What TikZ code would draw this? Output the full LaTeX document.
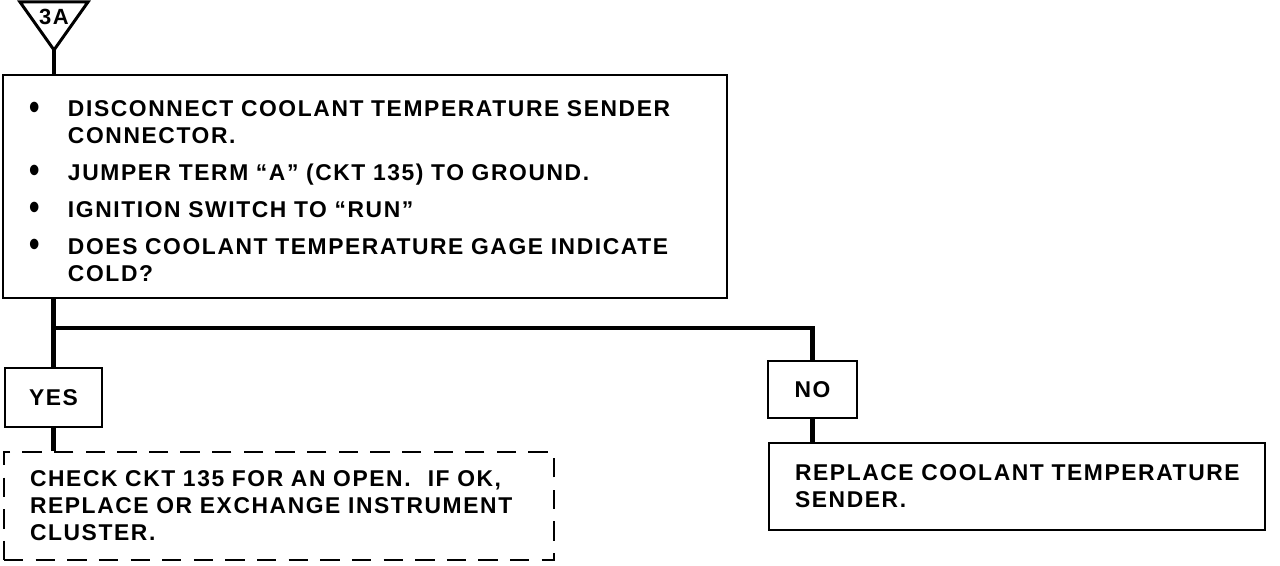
\documentclass[tikz,border=0pt]{standalone}
\usepackage{fontspec}
\newfontfamily\cardfont[LetterSpace=7,WordSpace=1.4]{Liberation Sans}
\usetikzlibrary{positioning,calc}
\definecolor{ink}{HTML}{000000}
\tikzset{
  card/.style={draw=ink,line width=1.1pt,text=ink,align=left,inner xsep=0.52cm,inner ysep=0pt,font=\cardfont\bfseries\fontsize{13}{15.3}\selectfont},
  ans/.style={card,align=center,inner xsep=0pt},
  chk/.style={card,dash pattern=on 11pt off 7pt},
  link/.style={line width=2.5pt,ink},
  tri/.style={line width=1.7pt,ink,line join=miter}
}
\newcommand{\bul}{\raisebox{-0.2ex}{\scalebox{1.3}[1.6]{\textbullet}}}

\begin{document}
\begin{tikzpicture}[x=1cm,y=1cm]
\useasboundingbox (0,0) rectangle (25.6,11.32);
% ---------------- entry mark ----------------
\draw[tri] (0.4,11.28) -- (1.76,11.28) -- (1.08,10.32) -- cycle;
\coordinate (tip) at (1.08,10.32);
\node[font=\cardfont\bfseries\fontsize{12.5}{14}\selectfont,inner sep=0pt] (mark) at (1.08,10.98) {3A};
% ---------------- boxes ----------------
\node[card,minimum width=14.48cm,minimum height=4.46cm,text width=13.44cm] (main) at (7.3,7.59) {%
\raisebox{-0.14cm}[\height][\depth]{\begin{tabular}{@{}p{0.78cm}@{}l@{}}
\bul & DISCONNECT COOLANT TEMPERATURE SENDER\\
     & CONNECTOR.\\[0.2cm]
\bul & JUMPER TERM “A” (CKT 135) TO GROUND.\\[0.2cm]
\bul & IGNITION SWITCH TO “RUN”\\[0.2cm]
\bul & DOES COOLANT TEMPERATURE GAGE INDICATE\\
     & COLD?
\end{tabular}}};
\node[ans,minimum width=1.94cm,minimum height=1.18cm] (yes) at (1.07,3.37) {YES};
\node[ans,minimum width=1.78cm,minimum height=1.14cm] (no) at (16.25,3.53) {NO};
\node[chk,minimum width=10.96cm,minimum height=2.16cm,text width=9.96cm] (check) at (5.58,1.2) {CHECK CKT 135 FOR AN OPEN.\hspace{0.75em}IF OK,\\ REPLACE OR EXCHANGE INSTRUMENT\\ CLUSTER.};
\node[card,minimum width=9.92cm,minimum height=1.74cm,text width=8.88cm] (swap) at (20.34,1.59) {REPLACE COOLANT TEMPERATURE\\ SENDER.};
% ---------------- connectors ----------------
\coordinate (fork) at (1.08,4.76);
\draw[link] (tip) -- (tip |- main.north);
\draw[link] (main.south -| yes.north) -- (yes.north);
\draw[link] (fork) -| (no.north);
\draw[link] (yes.south) -- (yes.south |- check.north);
\draw[link] (no.south) -- (no.south |- swap.north);
\end{tikzpicture}
\end{document}
